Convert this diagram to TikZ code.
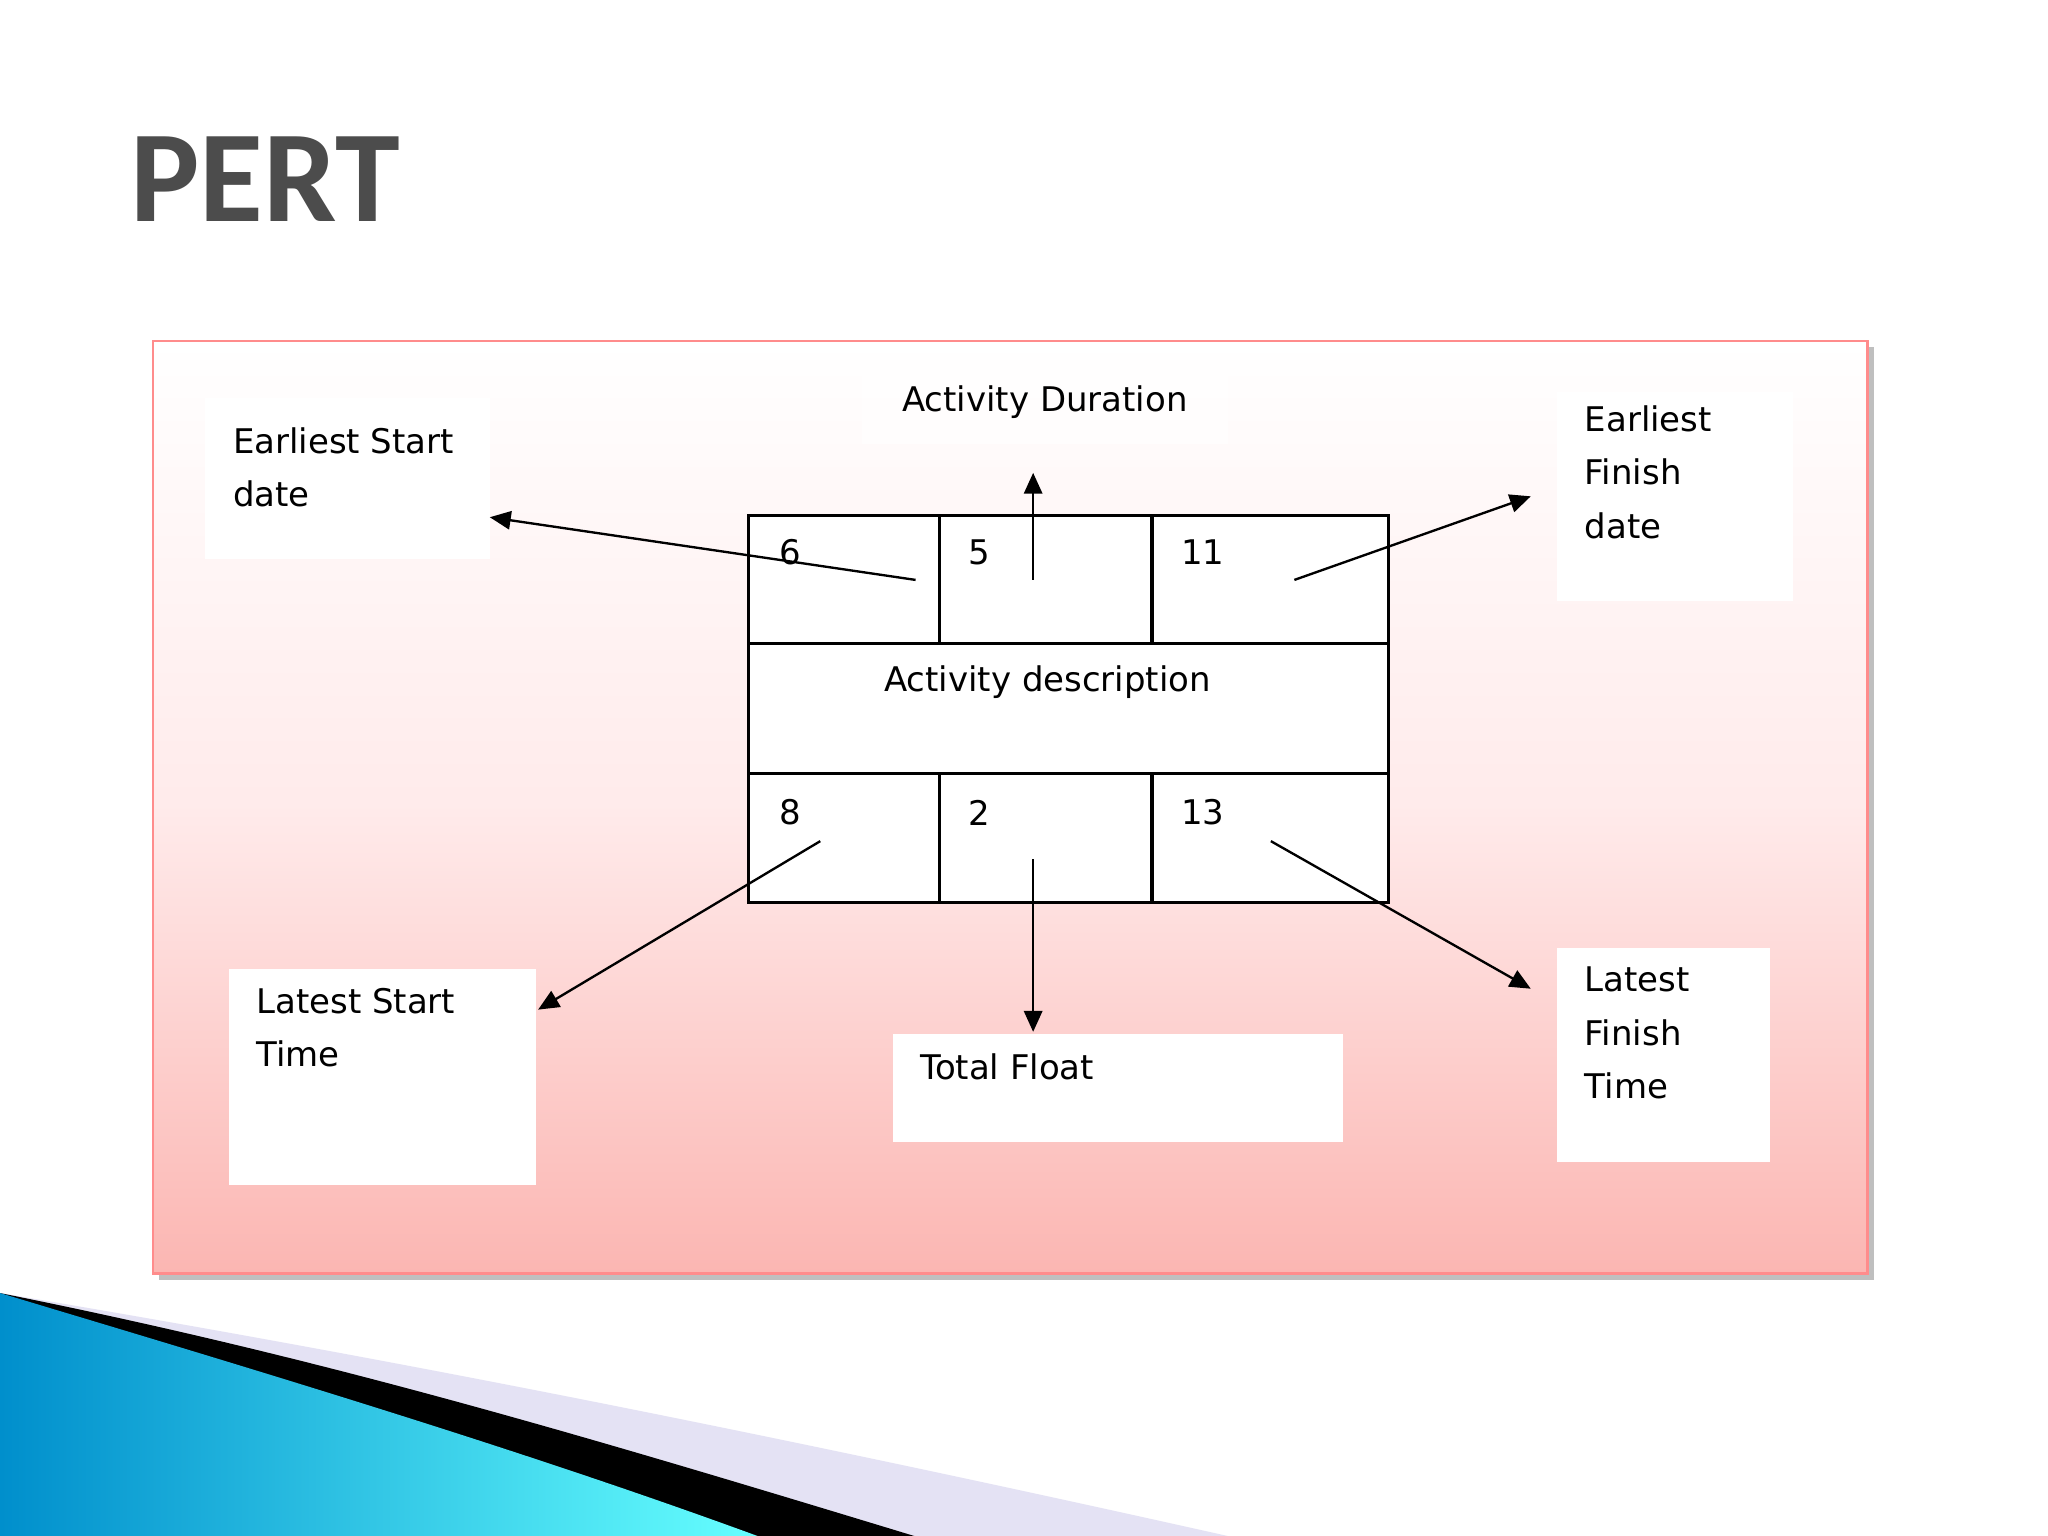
\documentclass[tikz,border=0pt]{standalone}
\usepackage{fontspec}
\setmainfont{DejaVu Sans}
\newfontfamily\titlefont{Carlito}
\usetikzlibrary{arrows.meta}
\begin{document}
\begin{tikzpicture}[x=0.5pt,y=-0.5pt,
  wbox/.style={fill=white,draw=none},
  lbl/.style={anchor=north west,align=left,inner sep=0pt,font=\fontsize{13}{20.5}\selectfont},
  num/.style={font=\fontsize{13}{15}\selectfont,inner sep=0pt},
  arr/.style={-{Triangle[length=8pt,width=7pt]},line width=0.9pt}]
\useasboundingbox (0,0) rectangle (1568,1176);
\fill[white] (0,0) rectangle (1568,1176);
\node[font=\titlefont\bfseries\fontsize{50}{55}\selectfont,text=black!70] at (203,137) {PERT};
% frame
\fill[black!25] (122,266) rectangle (1435,980);
\shade[top color=white,bottom color=red!30!pink!90!brown!60,middle color=red!8] (117,261) rectangle (1430,975);
\draw[draw=red!45,line width=1pt] (117,261) rectangle (1430,975);
% white boxes
\fill[white] (157,305) rectangle (375,428);
\fill[white,opacity=0.6] (660,285) rectangle (940,340);
\fill[white] (1192,300) rectangle (1373,460);
\fill[white] (175,742) rectangle (410,907);
\fill[white] (684,792) rectangle (1028,874);
\fill[white] (1192,726) rectangle (1355,890);
% table
\fill[white] (573,395) rectangle (1063,691);
\draw[line width=1.2pt] (573,395) rectangle (1063,691);
\draw[line width=1.2pt] (573,493) -- (1063,493) (573,592) -- (1063,592);
\draw[line width=1.2pt] (719,395) -- (719,493) (882,395) -- (882,493) (719,592) -- (719,691) (882,592) -- (882,691);
\node[num] at (605,423) {6};
\node[num] at (750,423) {5};
\node[num] at (921,423) {11};
\node[num] at (605,622) {8};
\node[num] at (750,622) {2};
\node[num] at (921,622) {13};
\node[num] (desc) at (802,522) {Activity description};
\node[num] (dur) at (800,308) {Activity Duration};
\node[lbl] (es) at (178,327) {Earliest Start\\date};
\node[lbl] (ef) at (1213,310) {Earliest\\Finish\\date};
\node[lbl] (ls) at (196,756) {Latest Start\\Time};
\node[lbl] (tf) at (704,806) {Total Float};
\node[lbl] (lf) at (1213,740) {Latest\\Finish\\Time};
% arrows
\coordinate (a1) at (701,444); \coordinate (b1) at (375,396);
\coordinate (a2) at (791,444); \coordinate (b2) at (791,362);
\coordinate (a3) at (991,444); \coordinate (b3) at (1172,380);
\coordinate (a4) at (628,644); \coordinate (b4) at (412,773);
\coordinate (a5) at (791,658); \coordinate (b5) at (791,790);
\coordinate (a6) at (973,644); \coordinate (b6) at (1172,757);
\foreach \i in {1,...,6} \draw[arr] (a\i) -- (b\i);
% bottom swoosh
\fill[cyan!15!blue!10!white] (0,990) .. controls (300,1040) and (600,1100) .. (940,1176) -- (0,1176) -- cycle;
\fill[black] (0,990) .. controls (250,1040) and (450,1100) .. (700,1176) -- (0,1176) -- cycle;
\shade[left color=cyan!70!blue!80!black,right color=cyan!60!white] (0,990) .. controls (200,1050) and (400,1110) .. (580,1176) -- (0,1176) -- cycle;
\end{tikzpicture}
\end{document}
